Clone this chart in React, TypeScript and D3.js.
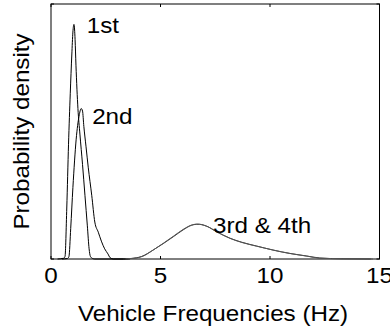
import * as d3 from 'd3';

// Kernel density estimates of the vehicle modal frequencies (Hz, relative density)
const mode1: [number, number][] = [
  [0.3, 0], [0.58, 0.003], [0.64, 0.01], [0.72, 0.2], [0.8, 0.45], [0.88, 0.65], [0.95, 0.8],
  [1.0, 0.89], [1.05, 0.92], [1.1, 0.86], [1.14, 0.76], [1.23, 0.59], [1.32, 0.49],
  [1.44, 0.37], [1.55, 0.25], [1.66, 0.13], [1.74, 0.04], [1.8, 0.01], [1.9, 0.002], [2.0, 0], [3.5, 0],
];
const mode2: [number, number][] = [
  [0.5, 0], [0.75, 0.002], [0.82, 0.01], [0.9, 0.12], [1.0, 0.28], [1.15, 0.47], [1.28, 0.56],
  [1.38, 0.59], [1.44, 0.58], [1.5, 0.52], [1.6, 0.44], [1.7, 0.36], [1.86, 0.25], [2.0, 0.145],
  [2.16, 0.105], [2.3, 0.07], [2.45, 0.04], [2.6, 0.02], [2.7, 0.005], [2.85, 0], [3.6, 0],
];
const mode3: [number, number][] = [
  [3.3, 0], [3.65, 0.002], [4.14, 0.01], [4.66, 0.035], [5.12, 0.06], [5.58, 0.087], [6.03, 0.114],
  [6.41, 0.132], [6.64, 0.136], [6.79, 0.136], [7.1, 0.129], [7.56, 0.107], [8.16, 0.082],
  [8.7, 0.066], [9.38, 0.051], [10.14, 0.035], [10.9, 0.022], [11.66, 0.012], [12.27, 0.004],
  [13.2, 0.001], [14.6, 0],
];
const mode4: [number, number][] = [
  [3.4, 0], [3.7, 0.002], [4.2, 0.011], [4.7, 0.037], [5.15, 0.063], [5.6, 0.09], [6.05, 0.117],
  [6.45, 0.134], [6.7, 0.137], [6.85, 0.135], [7.15, 0.127], [7.6, 0.105], [8.2, 0.08],
  [8.75, 0.064], [9.4, 0.05], [10.2, 0.034], [10.95, 0.021], [11.7, 0.011], [12.3, 0.003],
  [13.3, 0.001], [14.7, 0],
];
const xTicks = [0, 5, 10, 15];
const labels = [
  { text: '1st', x: 1.63, y: 0.885 },
  { text: '2nd', x: 1.88, y: 0.53 },
  { text: '3rd & 4th', x: 7.4, y: 0.102 },
];

const W = 390;
const H = 334;
const m = { top: 4, right: 10, bottom: 75, left: 51 };
const font = '"Liberation Sans", Arial, sans-serif';

export default function App() {
  const x = d3.scaleLinear().domain([0, 15]).range([m.left, W - m.right - 0.5]);
  const y = d3.scaleLinear().domain([0, 1]).range([H - m.bottom, m.top]);
  const line = d3.line<[number, number]>().x(d => x(d[0])).y(d => y(d[1])).curve(d3.curveMonotoneX);
  const [x0, x1] = x.range();
  const [y0, y1] = y.range();
  const tl = 3;

  return (
    <svg width={W} height={H} style={{ position: 'absolute', left: 0, top: 0, background: '#fff' }}
      fontFamily={font}>
      <rect x={x0} y={y1} width={x1 - x0} height={y0 - y1} fill="none" stroke="#000" strokeWidth={1} />
      {xTicks.map(t => (
        <g key={t}>
          <line x1={x(t)} x2={x(t)} y1={y0} y2={y0 - tl} stroke="#000" />
          <line x1={x(t)} x2={x(t)} y1={y1} y2={y1 + tl} stroke="#000" />
          <text x={x(t)} y={283} textAnchor="middle" fontSize={22}
            transform={`translate(${x(t)},0) scale(1.1,1) translate(${-x(t)},0)`}>{t}</text>
        </g>
      ))}
      {[0, 1].map(t => (
        <g key={t}>
          <line x1={x0} x2={x0 + tl} y1={y(t)} y2={y(t)} stroke="#000" />
          <line x1={x1} x2={x1 - tl} y1={y(t)} y2={y(t)} stroke="#000" />
        </g>
      ))}
      <path d={line(mode1) ?? ''} fill="none" stroke="#000" strokeWidth={1} />
      <path d={line(mode2) ?? ''} fill="none" stroke="#000" strokeWidth={1} />
      <path d={line(mode3) ?? ''} fill="none" stroke="#333" strokeWidth={1} />
      <path d={line(mode4) ?? ''} fill="none" stroke="#555" strokeWidth={1} />
      {labels.map(l => (
        <text key={l.text} x={x(l.x)} y={y(l.y)} fontSize={22}
          transform={`translate(${x(l.x)},0) scale(1.1,1) translate(${-x(l.x)},0)`}>{l.text}</text>
      ))}
      <text x={213} y={321} textAnchor="middle" fontSize={22}
        transform="translate(213,0) scale(1.1,1) translate(-213,0)">Vehicle Frequencies (Hz)</text>
      <text fontSize={22} textAnchor="middle"
        transform={`translate(29,${(y0 + y1) / 2}) rotate(-90) scale(1.1,1)`}>Probability density</text>
    </svg>
  );
}
